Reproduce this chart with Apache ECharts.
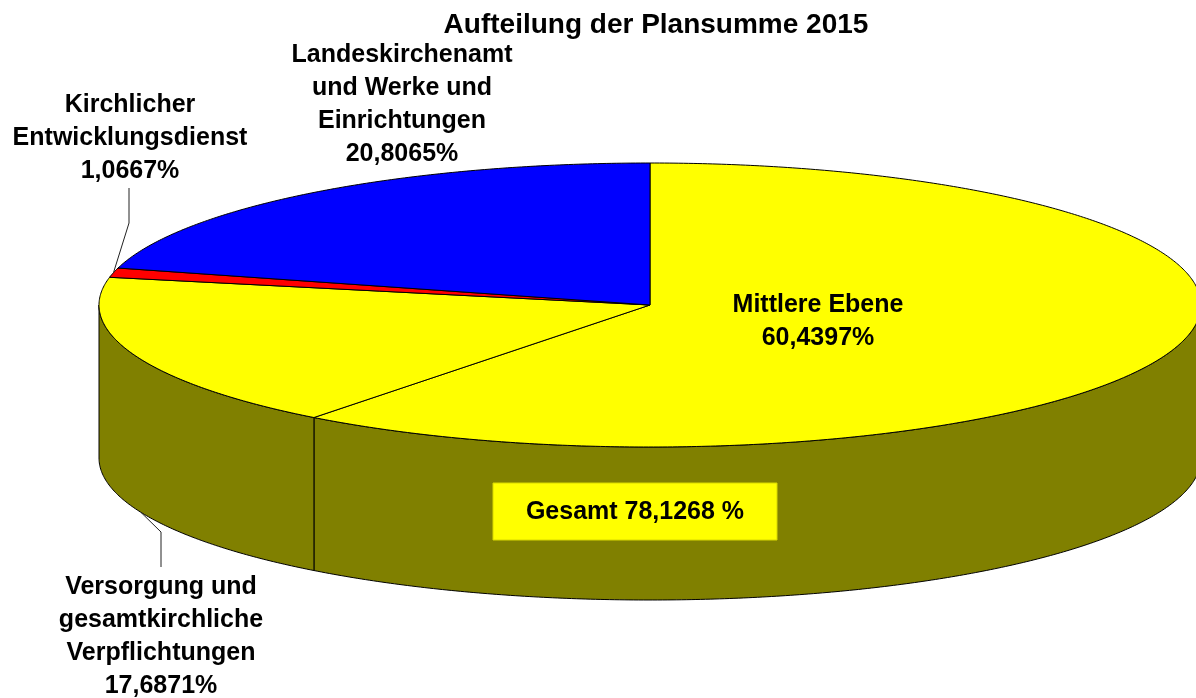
<!DOCTYPE html>
<html>
<head>
<meta charset="utf-8">
<script src="https://cdn.jsdelivr.net/npm/echarts@6/dist/echarts.min.js"></script>
<style>
  html, body { margin: 0; padding: 0; background: #fff; }
  #chart { width: 1196px; height: 698px; }
</style>
</head>
<body>
<div id="chart"></div>
<script>
// Anteile in Prozent, im Uhrzeigersinn ab 12 Uhr
const names = [
  'Mittlere Ebene',
  'Versorgung und\ngesamtkirchliche\nVerpflichtungen',
  'Kirchlicher\nEntwicklungsdienst',
  'Landeskirchenamt\nund Werke und\nEinrichtungen'
]
const shares = [60.4397, 17.6871, 1.0667, 20.8065]
const title = 'Aufteilung der Plansumme 2015'
const totalPrefix = 'Gesamt '

// Farben: Oberseite / Seitenwand
const topColors = ['#FFFF00', '#FFFF00', '#FF0000', '#0000FF']
const sideColors = ['#808000', '#808000', '#800000', '#000080']

// Lage der Ellipse (Pixel)
const cx = 650
const cy = 305
const rx = 551
const ry = 142
const depth = 153

// Lage der Beschriftungen (Mittelpunkt des Textblocks)
const labelAt = [[818, 322], [161, 637], [130, 138], [402, 105]]
// Führungslinien: Start und Knick, Ende liegt am Kreissegment
const leaders = {
  1: { from: [161, 567], knee: [161, 532], rim: depth, at: 0.47 },
  2: { from: [129, 188], knee: [129, 223], rim: 0, at: 0.5 }
}

const FONT = '"Liberation Sans", Arial, sans-serif'
const total = shares.reduce((a, b) => a + b, 0)
const starts = []
shares.reduce((acc, v, i) => { starts[i] = acc; return acc + v }, 0)

const fmt = (v) => v.toFixed(4).replace('.', ',')

function pt (theta, dy) {
  return [cx + rx * Math.sin(theta), cy - ry * Math.cos(theta) + dy]
}

function arc (a, b, dy) {
  const n = Math.max(2, Math.ceil((b - a) / (Math.PI / 360)))
  const pts = []
  for (let i = 0; i <= n; i++) pts.push(pt(a + (b - a) * i / n, dy))
  return pts
}

function angles (idx, val) {
  const a = starts[idx] / total * Math.PI * 2
  const b = a + val / total * Math.PI * 2
  return [a, b]
}

// Seitenwände (nur vordere Hälfte sichtbar)
function renderSide (params, api) {
  const idx = params.dataIndex
  const [a, b] = angles(idx, api.value(0))
  const a2 = Math.max(a, Math.PI / 2)
  const b2 = Math.min(b, Math.PI * 3 / 2)
  if (a2 >= b2) return null
  const pts = arc(a2, b2, 0).concat(arc(a2, b2, depth).reverse())
  return {
    type: 'polygon',
    shape: { points: pts },
    style: { fill: sideColors[idx], stroke: '#000', lineWidth: 1 }
  }
}

// Oberseite + Beschriftung
function renderTop (params, api) {
  const idx = params.dataIndex
  const val = api.value(0)
  const [a, b] = angles(idx, val)
  const children = [{
    type: 'polygon',
    shape: { points: [[cx, cy]].concat(arc(a, b, 0)) },
    style: { fill: topColors[idx], stroke: '#000', lineWidth: 1 }
  }]
  const ld = leaders[idx]
  if (ld) {
    const end = pt(a + (b - a) * ld.at, ld.rim)
    children.push({
      type: 'polyline',
      shape: { points: [ld.from, ld.knee, end] },
      style: { stroke: '#222', lineWidth: 1, fill: null }
    })
  }
  children.push({
    type: 'text',
    style: {
      x: labelAt[idx][0],
      y: labelAt[idx][1],
      text: names[idx] + '\n' + fmt(val) + '%',
      fill: '#000',
      font: 'bold 25px ' + FONT,
      align: 'center',
      verticalAlign: 'middle',
      lineHeight: 33
    }
  })
  return { type: 'group', children: children }
}

// Kasten "Gesamt" auf der Seitenwand
function renderTotal (params, api) {
  const sum = api.value(0)
  return {
    type: 'group',
    children: [
      {
        type: 'rect',
        shape: { x: 493, y: 483, width: 284, height: 57 },
        style: { fill: '#FFFF00', stroke: '#d8d800', lineWidth: 1 }
      },
      {
        type: 'text',
        style: {
          x: 635,
          y: 512,
          text: totalPrefix + fmt(sum) + ' %',
          fill: '#000',
          font: 'bold 25px ' + FONT,
          align: 'center',
          verticalAlign: 'middle'
        }
      }
    ]
  }
}

const chart = echarts.init(document.getElementById('chart'), null, { renderer: 'canvas' })
chart.setOption({
  animation: false,
  backgroundColor: '#fff',
  title: {
    text: title,
    left: 651,
    top: 6,
    textAlign: 'center',
    textStyle: { fontSize: 28, fontWeight: 'bold', color: '#000', fontFamily: FONT }
  },
  series: [
    {
      type: 'custom',
      coordinateSystem: 'none',
      renderItem: renderSide,
      data: shares.map((v) => [v]),
      z: 1,
      silent: true
    },
    {
      type: 'custom',
      coordinateSystem: 'none',
      renderItem: renderTop,
      data: shares.map((v) => [v]),
      z: 2,
      silent: true
    },
    {
      type: 'custom',
      coordinateSystem: 'none',
      renderItem: renderTotal,
      data: [[shares[0] + shares[1]]],
      z: 3,
      silent: true
    }
  ]
})
</script>
</body>
</html>
